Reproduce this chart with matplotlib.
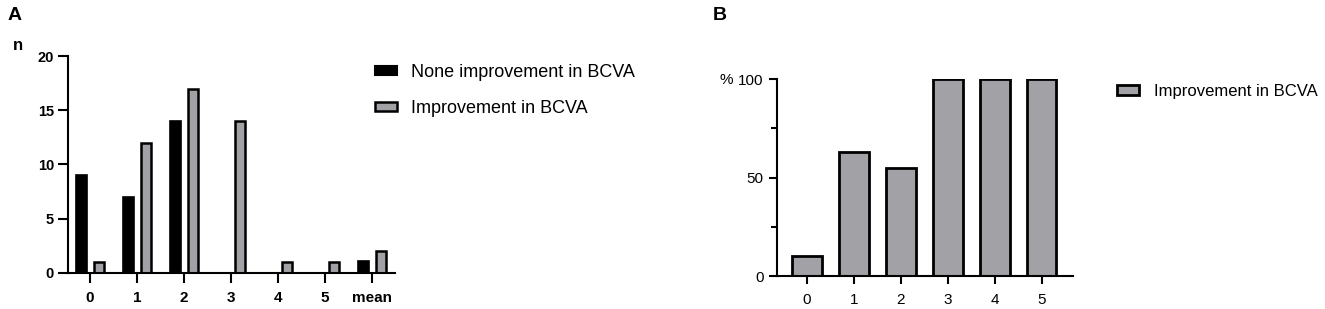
import numpy as np
import matplotlib
matplotlib.use('Agg')
from matplotlib import pyplot as plt
from matplotlib.patches import Patch

plt.rcParams['font.family'] = ['Liberation Sans', 'DejaVu Sans']

# Panel A data
cats_a = ['0', '1', '2', '3', '4', '5', 'mean']
none_improve = [9, 7, 14, 0, 0, 0, 1.1]
improve = [1, 12, 17, 14, 1, 1, 2]

# Panel B data
cats_b = ['0', '1', '2', '3', '4', '5']
pct_improve = [10, 63, 55, 100, 100, 100]

gray = '#a2a2a6'
W, H = 1325, 309

fig = plt.figure(figsize=(W / 100, H / 100), dpi=100)

# Panel A
axA = fig.add_axes([68 / W, 36.3 / H, 327 / W, 216.7 / H])
x = np.arange(len(cats_a))
axA.bar(x - 0.18, none_improve, width=0.22, color='black', edgecolor='black', linewidth=1.2)
axA.bar(x + 0.19, improve, width=0.21, color=gray, edgecolor='black', linewidth=1.8)
axA.set_xlim(-0.468, 6.49)
axA.set_ylim(0, 20)
axA.set_xticks(x)
axA.set_xticklabels(cats_a)
axA.set_yticks([0, 5, 10, 15, 20])
for s in ['top', 'right']:
    axA.spines[s].set_visible(False)
for s in ['left', 'bottom']:
    axA.spines[s].set_linewidth(1.5)
axA.tick_params(axis='both', width=1.5, length=7, labelsize=10.5, pad=3)
axA.tick_params(axis='x', pad=6, labelsize=11)
for lab in axA.get_xticklabels() + axA.get_yticklabels():
    lab.set_fontweight('bold')

fig.text(8 / W, 1 - 15 / H, 'A', fontsize=14, fontweight='bold', va='center', ha='left')
fig.text(13 / W, 1 - 46 / H, 'n', fontsize=12, fontweight='bold', va='center', ha='left')

handles_a = [Patch(facecolor='black', edgecolor='black', linewidth=1.5, label='None improvement in BCVA'),
             Patch(facecolor=gray, edgecolor='black', linewidth=1.8, label='Improvement in BCVA')]
fig.legend(handles=handles_a, loc='upper left', bbox_to_anchor=(375 / W, 1 - 64 / H),
           frameon=False, fontsize=13, handlelength=1.2, handleheight=0.45,
           handletextpad=0.8, labelspacing=1.05, borderpad=0, borderaxespad=0)

# Panel B
axB = fig.add_axes([776.7 / W, 33 / H, 296.3 / W, 197 / H])
xb = np.arange(len(cats_b))
axB.bar(xb, pct_improve, width=0.63, color=gray, edgecolor='black', linewidth=2)
axB.set_xlim(-0.645, 5.667)
axB.set_ylim(0, 100)
axB.set_xticks(xb)
axB.set_xticklabels(cats_b)
axB.set_yticks([0, 50, 100])
axB.set_yticks([25, 75], minor=True)
for s in ['top', 'right']:
    axB.spines[s].set_visible(False)
for s in ['left', 'bottom']:
    axB.spines[s].set_linewidth(1.5)
axB.tick_params(axis='both', which='major', width=1.5, length=6, labelsize=11)
axB.tick_params(axis='y', which='minor', width=1.5, length=4)
axB.tick_params(axis='x', pad=6)

fig.text(713 / W, 1 - 15 / H, 'B', fontsize=14, fontweight='bold', va='center', ha='left')
fig.text(720 / W, 1 - 80 / H, '%', fontsize=11, va='center', ha='left')

handles_b = [Patch(facecolor=gray, edgecolor='black', linewidth=2, label='Improvement in BCVA')]
fig.legend(handles=handles_b, loc='upper left', bbox_to_anchor=(1117 / W, 1 - 84 / H),
           frameon=False, fontsize=12, handlelength=1.3, handleheight=0.5,
           handletextpad=0.9, borderpad=0, borderaxespad=0)

fig.savefig('out.png', dpi=100)
